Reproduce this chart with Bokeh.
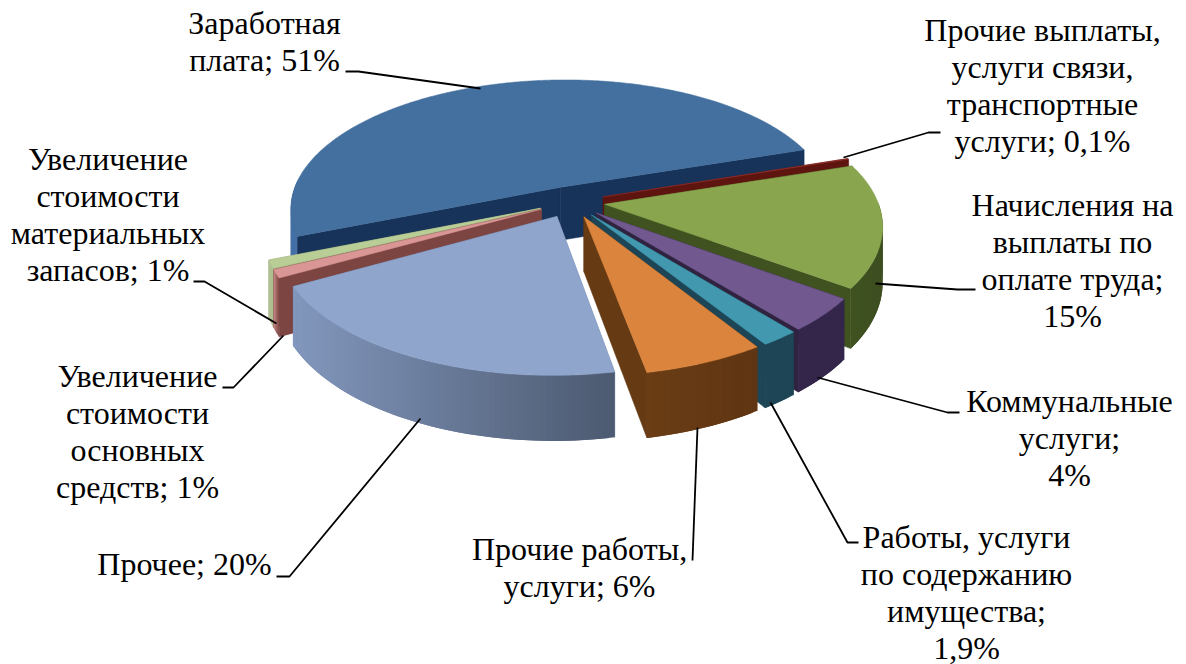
import numpy as np
from bokeh.plotting import figure
from bokeh.models import ColumnDataSource
from bokeh.core.properties import value
from bokeh.embed import file_html
from bokeh.resources import INLINE

# ---- data ----
categories = ["Заработная плата", "Прочие выплаты, услуги связи, транспортные услуги",
              "Начисления на выплаты по оплате труда", "Коммунальные услуги",
              "Работы, услуги по содержанию имущества", "Прочие работы, услуги", "Прочее",
              "Увеличение стоимости основных средств", "Увеличение стоимости материальных запасов"]
shares = [51, 0.1, 15, 4, 1.9, 6, 20, 1, 1]
top_colors = ["#44709f", "#8f302d", "#89a54e", "#71588f", "#4198af", "#db843d", "#8fa5cc", "#d99694", "#b9cd96"]
radial_colors = ["#17335a", "#5e1510", "#3f5220", "#2f2340", "#1d4555", "#663a12", "#6f85aa", "#7c4542", "#8c9c6c"]
outer_left = ["#4470a6", "#5e1510", "#3f5220", "#33264a", "#1d4555", "#6a3d14", "#8297bd", "#c88a88", "#b0bf90"]
outer_right = ["#3a6090", "#5e1510", "#3d4e20", "#33264a", "#1d4555", "#5f3513", "#4c5a70", "#7c4542", "#b0bf90"]
draw_order = [0, 1, 2, 3, 4, 5, 8, 7, 6]

label_lines = [
    ["Заработная", "плата; 51%"],
    ["Прочие выплаты,", "услуги связи,", "транспортные", "услуги; 0,1%"],
    ["Начисления на", "выплаты по", "оплате труда;", "15%"],
    ["Коммунальные", "услуги;", "4%"],
    ["Работы, услуги", "по содержанию", "имущества;", "1,9%"],
    ["Прочие работы,", "услуги; 6%"],
    ["Прочее; 20%"],
    ["Увеличение", "стоимости", "основных", "средств; 1%"],
    ["Увеличение", "стоимости", "материальных", "запасов; 1%"],
]

# ---- layout (reference page pixels) ----
label_x = [264, 1042, 1072, 1069, 966, 579, 184, 137, 107.5]
label_base = [22, 29, 204, 400, 536, 548, 563, 375, 158]
label_step = 37
label_size = "32px"
leader_xs = [[345, 358, 480], [940, 928, 843], [975, 957, 875], [959, 947, 817], [858, 847, 770],
             [697, 692], [276, 289, 420], [222, 233, 283], [193, 204, 276]]
leader_ys = [[71, 71, 88], [132, 132, 157], [289, 289, 283], [412, 412, 377], [542, 542, 402],
             [427, 560], [576, 576, 418], [387, 387, 335], [281, 281, 323]]

# camera of the tilted, exploded disc
CX, CY, AX, BX, AY, BY, K1, K2, EXPLODE, DEPTH = 570.99, 201.32, 271.66, 9.37, 3.17, -128.62, 0.1584, -0.0083, 0.1228, 54
START_DEG = -113.39


def project(theta, r, mid, z=0.0):
    X = EXPLODE * np.sin(mid) + r * np.sin(theta)
    Y = EXPLODE * np.cos(mid) + r * np.cos(theta)
    s = 1.0 / (1.0 + K1 * Y + K2 * X)
    return CX + (AX * X + BX * Y) * s, CY + (AY * X + BY * Y + z * DEPTH) * s


def lerp_hex(a, b, t):
    ca = np.array([int(a[i:i + 2], 16) for i in (1, 3, 5)], float)
    cb = np.array([int(b[i:i + 2], 16) for i in (1, 3, 5)], float)
    c = ca + (cb - ca) * t
    return "#%02x%02x%02x" % tuple(int(round(v)) for v in c)


p = figure(width=1186, height=664, x_range=(0, 1186), y_range=(664, 0),
           output_backend="svg", toolbar_location=None, min_border=0,
           background_fill_color="white", border_fill_color="white", outline_line_color=None)
p.axis.visible = False
p.grid.visible = False

edges = START_DEG + np.concatenate([[0], np.cumsum(shares)]) * 3.6
for i in draw_order:
    a0, a1 = np.radians(edges[i]), np.radians(edges[i + 1])
    mid = (a0 + a1) / 2
    # radial walls
    for a in (a0, a1):
        tx0, ty0 = project(a, 0, mid, 0)
        tx1, ty1 = project(a, 1, mid, 0)
        bx1, by1 = project(a, 1, mid, 1)
        bx0, by0 = project(a, 0, mid, 1)
        p.patch([tx0, tx1, bx1, bx0], [ty0, ty1, by1, by0], fill_color=radial_colors[i],
                line_color=radial_colors[i], line_width=0.5)
    # outer wall (only its viewer-facing part), in overlapping strips shaded along the screen
    n = max(4, int((edges[i + 1] - edges[i]) / 1.0))
    th = np.linspace(a0, a1, n + 1)
    tx, ty = project(th, 1, mid, 0)
    bx, by = project(th, 1, mid, 1)
    xmin, xmax = tx.min(), tx.max()
    xs, ys, cols = [], [], []
    for j in range(n):
        if np.cos(th[j]) > 0.02 and np.cos(th[j + 1]) > 0.02:
            continue
        e = min(j + 2, n)
        xs.append([tx[j], tx[e], bx[e], bx[j]])
        ys.append([ty[j], ty[e], by[e], by[j]])
        t = ((tx[j] + tx[j + 1]) / 2 - xmin) / max(xmax - xmin, 1e-6)
        cols.append(lerp_hex(outer_left[i], outer_right[i], t))
    if xs:
        p.patches(xs, ys, fill_color=cols, line_color=None)
    # top face
    th = np.linspace(a0, a1, max(3, int((edges[i + 1] - edges[i]) * 2)))
    ax, ay = project(th, 1, mid, 0)
    ox, oy = project(a0, 0, mid, 0)
    p.patch(np.r_[ox, ax], np.r_[oy, ay], fill_color=top_colors[i], line_color=top_colors[i], line_width=0.5)

p.multi_line(leader_xs, leader_ys, line_color="black", line_width=1.8)

tx, ty, tt = [], [], []
for i, lines in enumerate(label_lines):
    for k, line in enumerate(lines):
        tx.append(label_x[i])
        ty.append(label_base[i] + k * label_step)
        tt.append(line)
src = ColumnDataSource(dict(x=tx, y=ty, t=tt))
p.text("x", "y", text="t", source=src, text_font=value("Liberation Serif"),
       text_font_size=value(label_size), text_align="center", text_baseline="alphabetic", text_color="black")

open("out.html", "w").write(file_html(p, INLINE))
